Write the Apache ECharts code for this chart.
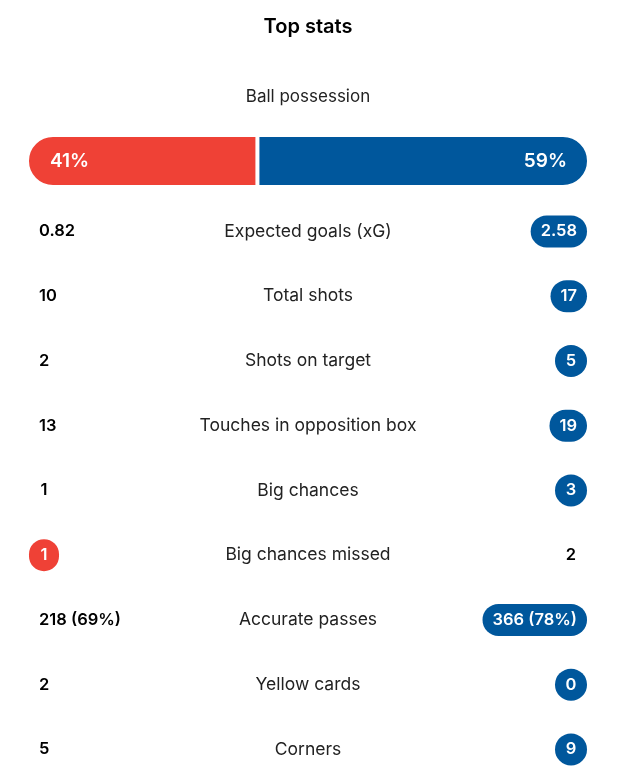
<!DOCTYPE html>
<html>
<head>
<meta charset="utf-8">
<title>Top stats</title>
<script src="https://cdn.jsdelivr.net/npm/echarts@6/dist/echarts.min.js"></script>
<style>
  html, body { margin: 0; padding: 0; background: #fff; }
  #main { width: 627px; height: 776px; }
</style>
</head>
<body>
<div id="main"></div>
<script>
// match data
const chartTitle = 'Top stats';
const possessionLabel = 'Ball possession';
const possessionHome = [41];
const possessionAway = [59];

const statNames = [
    'Expected goals (xG)',
    'Total shots',
    'Shots on target',
    'Touches in opposition box',
    'Big chances',
    'Big chances missed',
    'Accurate passes',
    'Yellow cards',
    'Corners'
];
const homeValues = ['0.82', '10', '2', '13', '1', '1', '218 (69%)', '2', '5'];
const awayValues = ['2.58', '17', '5', '19', '3', '2', '366 (78%)', '0', '9'];
// which side gets the coloured pill
const highlightSide = ['away', 'away', 'away', 'away', 'away', 'home', 'away', 'away', 'away'];

const HOME_COLOR = '#ef4136';
const AWAY_COLOR = '#00579c';
const FONT = 'Inter, "Noto Sans", sans-serif';
const VALUE_FONT = '600 16.5px ' + FONT;
const NAME_FONT = '400 17.5px ' + FONT;
const CENTER_X = 308;
// row layout: rows are 64.75px apart, grid runs from 199 to the bottom edge
const ROW_H = 64.75;
const ROWS_TOP = 199;
const CHART_H = 776;

// text width helper for the pills
const measureCtx = document.createElement('canvas').getContext('2d');
function textWidth(text, font) {
    measureCtx.font = font;
    return measureCtx.measureText(text).width;
}

function valueText(text, x, y, color) {
    return {
        type: 'text',
        style: {
            text: text, x: x, y: y, fill: color, font: VALUE_FONT,
            align: 'center', verticalAlign: 'middle',
            textAlign: 'center', textVerticalAlign: 'middle'
        }
    };
}

function renderRow(params, api) {
    let i = params.dataIndex;
    let left = api.coord([0, i]);
    let right = api.coord([100, i]);
    let y = left[1];
    let children = [];
    let pillH = 32;

    // home side
    let hw = Math.max(30, textWidth(homeValues[i], VALUE_FONT) + 20);
    if (highlightSide[i] === 'home') {
        children.push({
            type: 'rect',
            shape: {x: left[0], y: y - pillH / 2, width: hw, height: pillH, r: pillH / 2},
            style: {fill: HOME_COLOR}
        });
        children.push(valueText(homeValues[i], left[0] + hw / 2, y, '#fff'));
    } else {
        children.push(valueText(homeValues[i], left[0] + hw / 2, y, '#000'));
    }

    // away side
    let aw = Math.max(32, textWidth(awayValues[i], VALUE_FONT) + 20);
    if (highlightSide[i] === 'away') {
        children.push({
            type: 'rect',
            shape: {x: right[0] - aw, y: y - pillH / 2, width: aw, height: pillH, r: pillH / 2},
            style: {fill: AWAY_COLOR}
        });
        children.push(valueText(awayValues[i], right[0] - aw / 2, y, '#fff'));
    } else {
        children.push(valueText(awayValues[i], right[0] - aw / 2, y, '#000'));
    }

    // stat name in the middle
    children.push({
        type: 'text',
        style: {
            text: statNames[i], x: CENTER_X, y: y, fill: '#222', font: NAME_FONT,
            align: 'center', verticalAlign: 'middle',
            textAlign: 'center', textVerticalAlign: 'middle'
        }
    });
    return {type: 'group', children: children};
}

let titleFont = '600 20px ' + FONT;
let subFont = '400 17px ' + FONT;

let chart = echarts.init(document.getElementById('main'), null, {renderer: 'canvas'});
chart.setOption({
    backgroundColor: '#fff',
    animation: false,
    title: [{
        text: chartTitle,
        left: CENTER_X - textWidth(chartTitle, titleFont) / 2 - 5,
        top: 12,
        textStyle: {fontFamily: FONT, fontSize: 20, fontWeight: 600, color: '#000'}
    }, {
        text: possessionLabel,
        left: CENTER_X - textWidth(possessionLabel, subFont) / 2 - 5,
        top: 83,
        textStyle: {fontFamily: FONT, fontSize: 17, fontWeight: 400, color: '#222'}
    }],
    grid: [
        {left: 27, right: 38, top: 135, height: 52},
        {left: 29, right: 40, top: ROWS_TOP, bottom: 0}
    ],
    xAxis: [
        {type: 'value', gridIndex: 0, min: 0, max: 100, show: false},
        {type: 'value', gridIndex: 1, min: 0, max: 100, show: false}
    ],
    yAxis: [
        {type: 'category', gridIndex: 0, data: [possessionLabel], show: false},
        {
            type: 'value', gridIndex: 1, inverse: true, show: false,
            min: -0.5, max: -0.5 + (CHART_H - ROWS_TOP) / ROW_H
        }
    ],
    series: [{
        type: 'bar',
        xAxisIndex: 0,
        yAxisIndex: 0,
        stack: 'possession',
        barWidth: 52,
        data: possessionHome,
        itemStyle: {color: HOME_COLOR, borderColor: '#fff', borderWidth: 2, borderRadius: [26, 0, 0, 26]},
        label: {
            show: true, position: 'insideLeft', distance: 23, formatter: '{c}%',
            color: '#fff', fontFamily: FONT, fontSize: 19, fontWeight: 600
        }
    }, {
        type: 'bar',
        xAxisIndex: 0,
        yAxisIndex: 0,
        stack: 'possession',
        barWidth: 52,
        data: possessionAway,
        itemStyle: {color: AWAY_COLOR, borderColor: '#fff', borderWidth: 2, borderRadius: [0, 26, 26, 0]},
        label: {
            show: true, position: 'insideRight', distance: 22, formatter: '{c}%',
            color: '#fff', fontFamily: FONT, fontSize: 19, fontWeight: 600
        }
    }, {
        type: 'custom',
        xAxisIndex: 1,
        yAxisIndex: 1,
        clip: false,
        renderItem: renderRow,
        encode: {x: 0, y: 1},
        data: statNames.map(function (name, i) { return [0, i]; })
    }]
});
</script>
</body>
</html>
